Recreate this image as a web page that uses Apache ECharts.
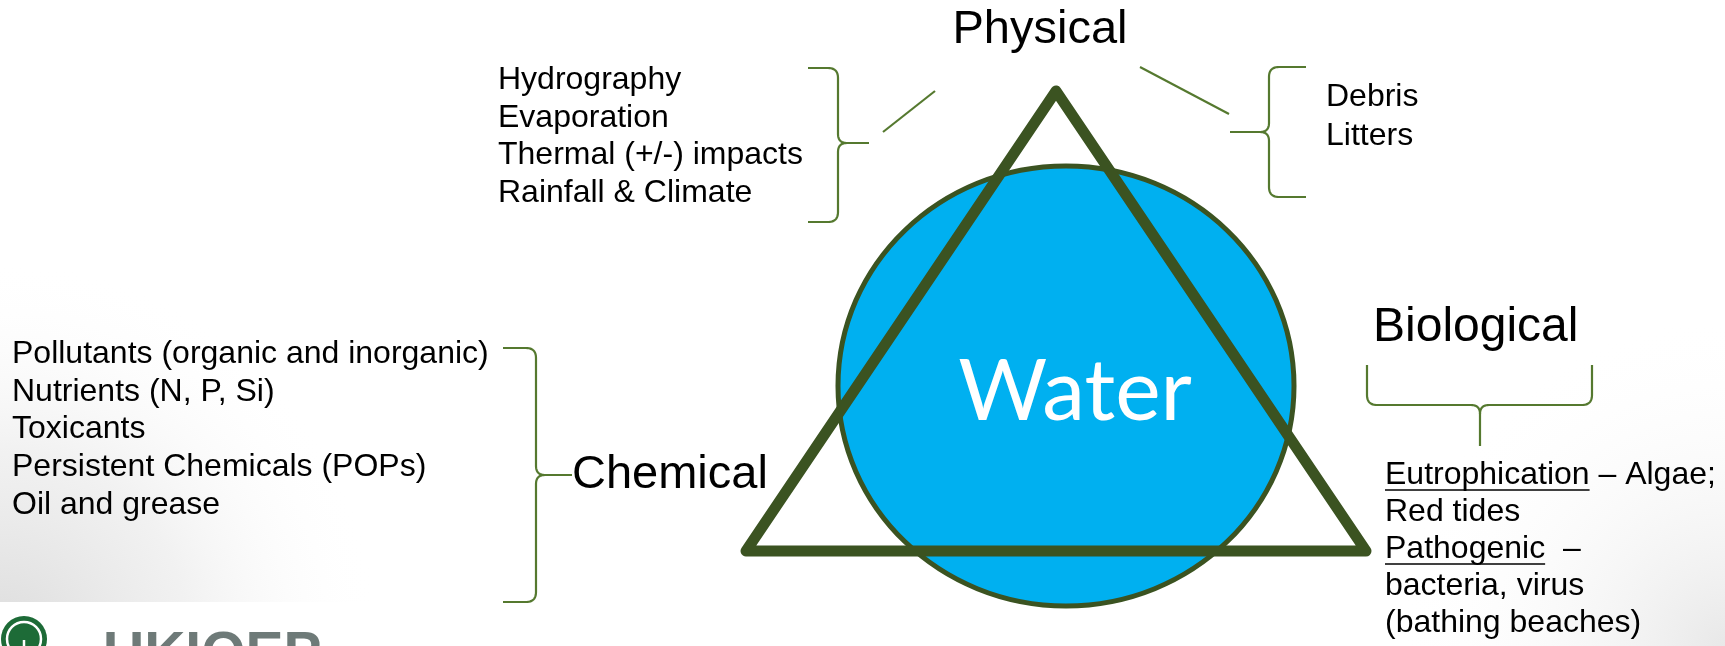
<!DOCTYPE html>
<html><head><meta charset="utf-8">
<script src="https://cdn.jsdelivr.net/npm/echarts@6/dist/echarts.min.js"></script>
<style>html,body{margin:0;padding:0;background:#fff}#main{width:1725px;height:646px}</style>
</head><body><div id="main"></div>
<script>
// ---- content ----
const centerLabel = 'Water';
const categoryLabels = ['Physical', 'Chemical', 'Biological'];
const physicalLeftItems = ['Hydrography', 'Evaporation', 'Thermal (+/-) impacts', 'Rainfall & Climate'];
const physicalRightItems = ['Debris', 'Litters'];
const chemicalItems = ['Pollutants (organic and inorganic)', 'Nutrients (N, P, Si)', 'Toxicants', 'Persistent Chemicals (POPs)', 'Oil and grease'];
const biologicalItems = ['Eutrophication – Algae;', 'Red tides', 'Pathogenic  –', 'bacteria, virus', '(bathing beaches)'];
const underlinedTerms = ['Eutrophication', 'Pathogenic'];
const logoText = 'UKIOEP';

// ---- layout / style ----
const FONT = '"Liberation Sans", Arial, sans-serif';
const BR = '#55792f';
const DARK = '#3b5321';
const BLUE = '#00b0f0';
const chart = echarts.init(document.getElementById('main'), null, { renderer: 'canvas' });
const ctx = document.createElement('canvas').getContext('2d');
function measure(t, font) { ctx.font = font; return ctx.measureText(t).width; }

function txt(t, x, y, size, o) {
  o = o || {};
  return { type: 'text', z: o.z || 20, style: {
    text: t, x: x, y: y, font: (o.weight || 'normal') + ' ' + size + 'px ' + (o.family || FONT),
    fill: o.fill || '#000', textAlign: o.align || 'left', textVerticalAlign: 'middle' } };
}
// quadratic bezier sampler
function quad(pts, p0, c, p1) {
  for (let k = 1; k <= 12; k++) {
    const t = k / 12, a = (1 - t) * (1 - t), b = 2 * t * (1 - t), d = t * t;
    pts.push([a * p0[0] + b * c[0] + d * p1[0], a * p0[1] + b * c[1] + d * p1[1]]);
  }
}
// vertical brace: ends at x0, spine at xs, tip at xt
function braceV(x0, xs, xt, yTop, yTip, yBot, r, rt) {
  const d = xt > xs ? 1 : -1;
  const a = [[x0, yTop], [xs - d * r, yTop]];
  quad(a, [xs - d * r, yTop], [xs, yTop], [xs, yTop + r]);
  a.push([xs, yTip - rt]);
  quad(a, [xs, yTip - rt], [xs, yTip], [xs + d * rt, yTip]);
  a.push([xt, yTip]);
  const b = [[xs + d * rt, yTip]];
  quad(b, [xs + d * rt, yTip], [xs, yTip], [xs, yTip + rt]);
  b.push([xs, yBot - r]);
  quad(b, [xs, yBot - r], [xs, yBot], [xs - d * r, yBot]);
  b.push([x0, yBot]);
  return [a, b];
}
// horizontal brace opening upward: ends at y0, spine at ys, tip at yt
function braceH(y0, ys, yt, xL, xTip, xR, r, rt) {
  const a = [[xL, y0], [xL, ys - r]];
  quad(a, [xL, ys - r], [xL, ys], [xL + r, ys]);
  a.push([xTip - rt, ys]);
  quad(a, [xTip - rt, ys], [xTip, ys], [xTip, ys + rt]);
  a.push([xTip, yt]);
  const b = [[xTip, ys + rt]];
  quad(b, [xTip, ys + rt], [xTip, ys], [xTip + rt, ys]);
  b.push([xR - r, ys]);
  quad(b, [xR - r, ys], [xR, ys], [xR, ys - r]);
  b.push([xR, y0]);
  return [a, b];
}
function polyEls(parts) {
  return parts.map(function (p) {
    return { type: 'polyline', z: 5, shape: { points: p }, style: { stroke: BR, lineWidth: 2.2, fill: null, lineJoin: 'round' } };
  });
}
function lineEl(x1, y1, x2, y2) { return { type: 'line', z: 5, shape: { x1: x1, y1: y1, x2: x2, y2: y2 }, style: { stroke: BR, lineWidth: 2.2 } }; }

const els = [];
// background shading
els.push({ type: 'rect', z: 0, shape: { x: 0, y: 250, width: 420, height: 352 },
  style: { fill: new echarts.graphic.RadialGradient(0, 640, 380, [
    { offset: 0, color: 'rgba(220,220,220,1)' }, { offset: 0.5, color: 'rgba(238,238,238,0.8)' }, { offset: 1, color: 'rgba(255,255,255,0)' }], true) } });
els.push({ type: 'rect', z: 0, shape: { x: 1400, y: 300, width: 325, height: 346 },
  style: { fill: new echarts.graphic.RadialGradient(1725, 646, 330, [
    { offset: 0, color: 'rgba(232,232,232,1)' }, { offset: 1, color: 'rgba(255,255,255,0)' }], true) } });

// circle + triangle
els.push({ type: 'ellipse', z: 8, shape: { cx: 1066, cy: 386, rx: 228, ry: 220 }, style: { fill: BLUE, stroke: DARK, lineWidth: 5 } });
els.push({ type: 'polygon', z: 10, shape: { points: [[1056, 91], [746, 551], [1366, 551]] },
  style: { fill: null, stroke: DARK, lineWidth: 11, lineJoin: 'round' } });
els.push(txt(centerLabel, 1075, 392, 86, { fill: '#fff', family: 'Lato, "Open Sans", sans-serif', align: 'center', z: 12 }));

// category headings
els.push(txt(categoryLabels[0], 1040, 30, 47, { align: 'center' }));
els.push(txt(categoryLabels[1], 572, 475, 47));
els.push(txt(categoryLabels[2], 1373, 328, 48));

// lists
physicalLeftItems.forEach(function (t, i) { els.push(txt(t, 498, 80 + i * 37.7, 32)); });
physicalRightItems.forEach(function (t, i) { els.push(txt(t, 1326, 97 + i * 39, 32)); });
chemicalItems.forEach(function (t, i) { els.push(txt(t, 12, 354 + i * 37.8, 32)); });
const f32 = 'normal 32px ' + FONT;
biologicalItems.forEach(function (t, i) {
  const y = 475 + i * 37;
  els.push(txt(t, 1385, y, 32));
  underlinedTerms.forEach(function (u) {
    if (t.indexOf(u) === 0) {
      const w = measure(u, f32);
      els.push({ type: 'line', z: 20, shape: { x1: 1385, y1: y + 15, x2: 1385 + w, y2: y + 15 }, style: { stroke: '#000', lineWidth: 1.5 } });
    }
  });
});

// brackets and connector lines
polyEls(braceV(808, 838, 869, 68, 143, 222, 10, 9)).forEach(function (e) { els.push(e); });
polyEls(braceV(1306, 1269, 1230, 67, 132, 197, 10, 9)).forEach(function (e) { els.push(e); });
polyEls(braceV(503, 536, 572, 348, 475, 602, 10, 9)).forEach(function (e) { els.push(e); });
polyEls(braceH(365, 405, 446, 1367, 1480, 1592, 10, 9)).forEach(function (e) { els.push(e); });
els.push(lineEl(883, 132, 935, 91));
els.push(lineEl(1140, 67, 1229, 114));

// logo
els.push({ type: 'circle', z: 20, shape: { cx: 24, cy: 639, r: 23 }, style: { fill: '#1d6b37' } });
els.push({ type: 'circle', z: 21, shape: { cx: 24, cy: 639, r: 17 }, style: { fill: null, stroke: '#fff', lineWidth: 2.5 } });
els.push({ type: 'line', z: 21, shape: { x1: 24, y1: 640, x2: 24, y2: 662 }, style: { stroke: '#fff', lineWidth: 2.5 } });
els.push(txt(logoText, 103, 656, 57, { weight: 'bold', fill: '#6e7a78' }));

chart.setOption({ animation: false, backgroundColor: '#fff', graphic: { elements: els } });
</script></body></html>
